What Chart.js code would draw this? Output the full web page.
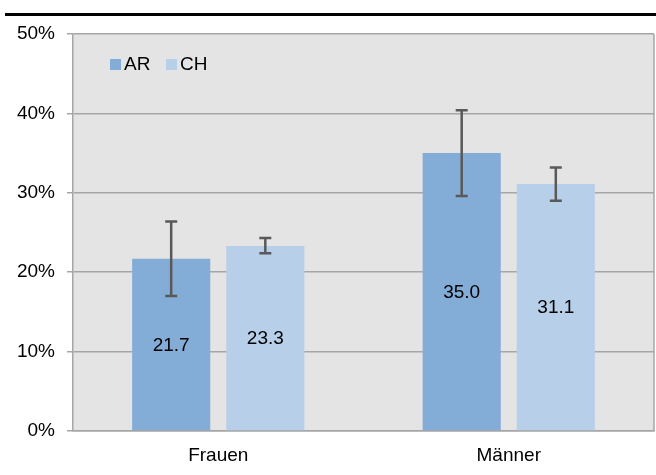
<!DOCTYPE html>
<html>
<head>
<meta charset="utf-8">
<script src="https://cdn.jsdelivr.net/npm/chart.js@4"></script>
<style>
  html, body { margin: 0; padding: 0; background: #fff; }
  #wrap { position: relative; width: 656px; height: 475px; }
  #rule { position: absolute; left: 5px; top: 13px; width: 651px; height: 3px; background: #000; }
</style>
</head>
<body>
<div id="wrap">
  <canvas id="chart" width="656" height="475"></canvas>
  <div id="rule"></div>
</div>
<script>
// ================= DATA =================
const categories = ["Frauen", "Männer"];
const valuesAR = [21.7, 35.0];
const valuesCH = [23.3, 31.1];
const errLowAR = [17.0, 29.6];
const errHighAR = [26.4, 40.4];
const errLowCH = [22.4, 29.0];
const errHighCH = [24.3, 33.2];
const yTicks = [0, 10, 20, 30, 40, 50];

const errLow = [errLowAR, errLowCH];
const errHigh = [errHighAR, errHighCH];

const FONT = "'Liberation Sans', Arial, sans-serif";
const FSIZE = 19;

// background + frame of the plot area
const plotBox = {
  id: "plotBox",
  beforeDraw(chart) {
    const { ctx, chartArea: a } = chart;
    ctx.save();
    ctx.fillStyle = "#e4e4e4";
    ctx.fillRect(a.left, a.top, a.right - a.left, a.bottom - a.top);
    ctx.restore();
  },
  afterDraw(chart) {
    const { ctx, chartArea: a } = chart;
    ctx.save();
    ctx.strokeStyle = "#a6a6a6";
    ctx.lineWidth = 1.5;
    ctx.beginPath();
    ctx.moveTo(a.right, a.top);
    ctx.lineTo(a.right, a.bottom);
    ctx.stroke();

    // legend inside the plot area
    ctx.font = FSIZE + "px " + FONT;
    ctx.textBaseline = "middle";
    let x = 110;
    const y = 65;
    chart.data.datasets.forEach(ds => {
      ctx.fillStyle = ds.backgroundColor;
      ctx.fillRect(x, y - 6, 11, 11);
      ctx.fillStyle = "#000";
      ctx.fillText(ds.label, x + 14, y);
      x += 56;
    });
    ctx.restore();
  }
};

// error bars + value labels
const barExtras = {
  id: "barExtras",
  afterDatasetsDraw(chart) {
    const { ctx } = chart;
    const yScale = chart.scales.y;
    ctx.save();
    chart.data.datasets.forEach((ds, i) => {
      const meta = chart.getDatasetMeta(i);
      meta.data.forEach((bar, j) => {
        // label
        ctx.fillStyle = "#000";
        ctx.font = FSIZE + "px " + FONT;
        ctx.textAlign = "center";
        ctx.textBaseline = "middle";
        ctx.fillText(ds.data[j].toFixed(1), bar.x, (bar.y + bar.base) / 2 + 1);

        // error bar
        const yl = yScale.getPixelForValue(errLow[i][j]);
        const yh = yScale.getPixelForValue(errHigh[i][j]);
        ctx.strokeStyle = "#595959";
        ctx.lineWidth = 2.5;
        ctx.beginPath();
        ctx.moveTo(bar.x, yl);
        ctx.lineTo(bar.x, yh);
        ctx.moveTo(bar.x - 6, yl);
        ctx.lineTo(bar.x + 6, yl);
        ctx.moveTo(bar.x - 6, yh);
        ctx.lineTo(bar.x + 6, yh);
        ctx.stroke();
      });
    });
    ctx.restore();
  }
};

const ctx = document.getElementById("chart").getContext("2d");

window.barChart = new Chart(ctx, {
  type: "bar",
  data: {
    labels: categories,
    datasets: [
      {
        label: "AR",
        data: valuesAR,
        backgroundColor: "#83acd7",
        categoryPercentage: 0.648,
        barPercentage: 0.83
      },
      {
        label: "CH",
        data: valuesCH,
        backgroundColor: "#b8cfea",
        categoryPercentage: 0.648,
        barPercentage: 0.83
      }
    ]
  },
  plugins: [plotBox, barExtras],
  options: {
    responsive: false,
    animation: false,
    events: [],
    layout: { padding: { top: 34, right: 2, left: 0, bottom: 0 } },
    plugins: {
      legend: { display: false },
      tooltip: { enabled: false }
    },
    scales: {
      y: {
        min: 0,
        max: 50,
        afterBuildTicks: s => { s.ticks = yTicks.map(v => ({ value: v })); },
        afterFit: s => { s.width = 73; },
        grid: { color: "#a6a6a6", lineWidth: 1.5, tickLength: 6 },
        border: { color: "#a6a6a6", width: 1.5 },
        ticks: {
          padding: 12,
          color: "#000",
          font: { family: FONT, size: FSIZE },
          callback: v => v + "%"
        }
      },
      x: {
        afterFit: s => { s.height = 44; },
        grid: { display: false, drawTicks: false },
        border: { color: "#a6a6a6", width: 1.5 },
        ticks: {
          padding: 13,
          color: "#000",
          font: { family: FONT, size: FSIZE }
        }
      }
    }
  }
});
</script>
</body>
</html>
